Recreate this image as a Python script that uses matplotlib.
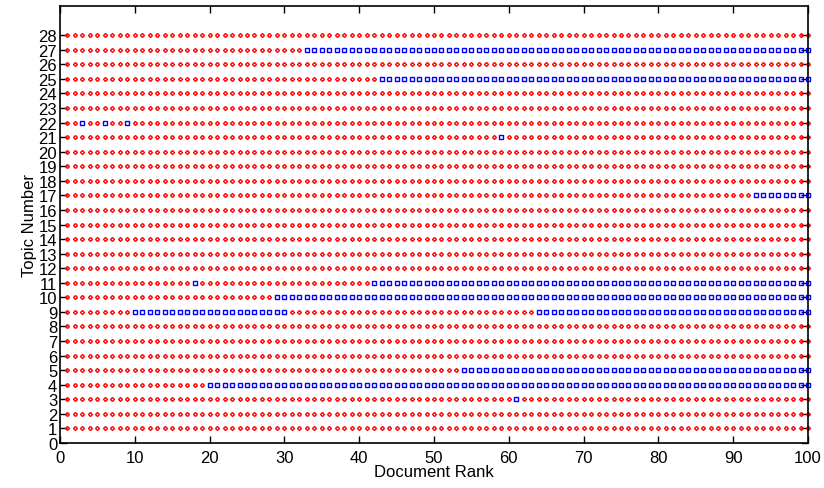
import matplotlib
matplotlib.use("Agg")
import matplotlib.pyplot as plt
import numpy as np

plt.rcParams['font.family'] = ['Liberation Sans', 'DejaVu Sans']

n_topics = 28
n_ranks = 100

# relevant (blue) documents per topic: list of ranks
relevant = {
    3: [61],
    4: list(range(20, 101)),
    5: list(range(54, 101)),
    9: list(range(10, 31)) + list(range(64, 101)),
    10: list(range(29, 101)),
    11: [18] + list(range(42, 101)),
    17: list(range(93, 101)),
    21: [59],
    22: [3, 6, 9],
    25: list(range(43, 101)),
    27: list(range(33, 101)),
}

red_x, red_y, blue_x, blue_y = [], [], [], []
for topic in range(1, n_topics + 1):
    rel = set(relevant.get(topic, []))
    for rank in range(1, n_ranks + 1):
        if rank in rel:
            blue_x.append(rank)
            blue_y.append(topic)
        else:
            red_x.append(rank)
            red_y.append(topic)

fig = plt.figure(figsize=(8.24, 4.89), dpi=100)
ax = fig.add_axes([0.0728, 0.092, 0.9078, 0.8937])

ax.plot(red_x, red_y, linestyle='none', marker='D', markersize=2.0,
        markerfacecolor='none', markeredgecolor='red', markeredgewidth=1.0,
        clip_on=False)
ax.plot(blue_x, blue_y, linestyle='none', marker='s', markersize=2.2,
        markerfacecolor='none', markeredgecolor='blue', markeredgewidth=1.0,
        clip_on=False)

ax.set_xlim(0, 100)
ax.set_ylim(0, 30)
ax.set_xticks(np.arange(0, 101, 10))
ax.set_yticks(np.arange(0, 29, 1))
ax.tick_params(direction='in', top=True, right=True, length=5, width=1,
               labelsize=12)
ax.tick_params(axis='x', pad=5)
ax.tick_params(axis='y', pad=2)
for s in ax.spines.values():
    s.set_linewidth(1.2)

ax.set_xlabel('Document Rank', fontsize=12, labelpad=-1)
ax.set_ylabel('Topic Number', fontsize=12, labelpad=1)

fig.savefig('out.png', dpi=100)
